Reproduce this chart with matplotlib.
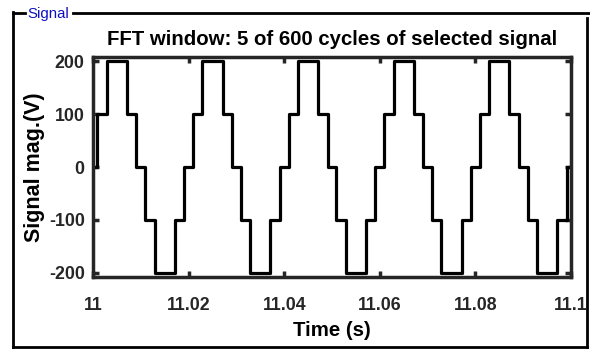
import numpy as np
import matplotlib
matplotlib.use("Agg")
import matplotlib.pyplot as plt
from matplotlib.lines import Line2D

# staircase signal, switching instants (s) and the level held after each one (V)
sw_times = [11.0,
            11.0009, 11.0029, 11.0071, 11.0091, 11.0109, 11.0129, 11.0171, 11.0191,
            11.0209, 11.0229, 11.0271, 11.0291, 11.0309, 11.0329, 11.0371, 11.0391,
            11.0409, 11.0429, 11.0471, 11.0491, 11.0509, 11.0529, 11.0571, 11.0591,
            11.0609, 11.0629, 11.0671, 11.0691, 11.0709, 11.0729, 11.0771, 11.0791,
            11.0809, 11.0829, 11.0871, 11.0891, 11.0909, 11.0929, 11.0971, 11.0991,
            11.1]
sw_levels = [0,
             100, 200, 100, 0, -100, -200, -100, 0,
             100, 200, 100, 0, -100, -200, -100, 0,
             100, 200, 100, 0, -100, -200, -100, 0,
             100, 200, 100, 0, -100, -200, -100, 0,
             100, 200, 100, 0, -100, -200, -100, 0,
             0]

xticks = [11.0, 11.02, 11.04, 11.06, 11.08, 11.1]
xticklabels = ['11', '11.02', '11.04', '11.06', '11.08', '11.1']
yticks = [-200, -100, 0, 100, 200]
yticklabels = ['-200', '-100', '0', '100', '200']

plt.rcParams['font.family'] = ['Liberation Sans', 'DejaVu Sans']
axcol = '#262626'

fig = plt.figure(figsize=(5.9, 3.49), dpi=100)
ax = fig.add_axes([93/590, 1-277/349, 478/590, 220/349])

ax.step(sw_times, sw_levels, where='post', color='black', lw=2.3)

ax.set_xlim(11.0, 11.1)
ax.set_ylim(-208, 208)
ax.set_xticks(xticks)
ax.set_xticklabels(xticklabels)
ax.set_yticks(yticks)
ax.set_yticklabels(yticklabels)
ax.tick_params(direction='in', length=4, width=2.5, colors=axcol,
               top=True, right=True, labelsize=12.8)
ax.tick_params(axis='x', pad=14.5)
ax.tick_params(axis='y', pad=6)
for lab in ax.get_xticklabels() + ax.get_yticklabels():
    lab.set_fontweight('bold')
for s in ax.spines.values():
    s.set_linewidth(2.5)
    s.set_color(axcol)

ax.set_title('FFT window: 5 of 600 cycles of selected signal',
             fontsize=14.7, fontweight='bold', pad=8.5)
ax.set_xlabel('Time (s)', fontsize=14.7, fontweight='bold', labelpad=5)
ax.set_ylabel('Signal mag.(V)', fontsize=15.5, fontweight='bold', labelpad=3)

# panel frame around the plot
def fline(x0, y0, x1, y1):
    fig.add_artist(Line2D([x0/590, x1/590], [1-y0/349, 1-y1/349],
                          color='black', lw=2, transform=fig.transFigure))

fline(13, 13, 25, 13)
fline(73, 13, 590, 13)
fline(13, 12, 13, 349)
fline(13, 347, 587, 347)
fline(587, 18, 587, 349)
fig.text(27/590, 1-14/349, 'Signal', color='#1010c0', fontsize=10.8,
         va='center', ha='left')

fig.savefig('out.png', dpi=100)
